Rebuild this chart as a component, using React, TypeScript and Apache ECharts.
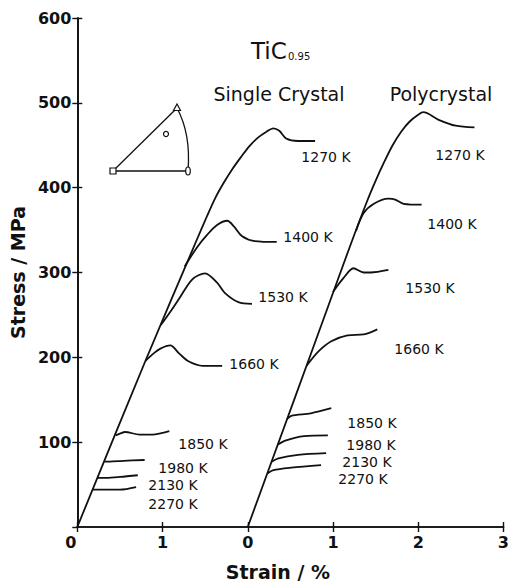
import React, { useEffect, useRef } from "react";
import * as echarts from "echarts";

// Strain axis tick labels (single crystal 0..1, then polycrystal 0..3)
const strainTickLabels = ["0", "1", "0", "1", "2", "3"];
const polyOffset = 2; // polycrystal curves start at the second "0"
const temperatures = ["1270 K", "1400 K", "1530 K", "1660 K", "1850 K", "1980 K", "2130 K", "2270 K"];

// Single crystal: [strain %, stress MPa]
const sc1270: number[][] = [[0, 0], [0.8, 196], [1.4, 338], [1.52, 366], [1.62, 388], [1.72, 406], [1.82, 422], [1.92, 436], [2.02, 449], [2.12, 459], [2.22, 466], [2.3, 470], [2.37, 467], [2.45, 458], [2.59, 455], [2.79, 455]];
const sc1400: number[][] = [[1.26, 307], [1.4, 329], [1.52, 344], [1.64, 356], [1.76, 361], [1.84, 354], [1.93, 343], [2.08, 337], [2.34, 336]];
const sc1530: number[][] = [[0.98, 238], [1.1, 255], [1.2, 270], [1.35, 292], [1.5, 299], [1.64, 288], [1.73, 276], [1.89, 265], [2.05, 263]];
const sc1660: number[][] = [[0.8, 196], [0.9, 205], [0.97, 210], [1.09, 214], [1.2, 204], [1.31, 195], [1.47, 190], [1.7, 190]];
const sc1850: number[][] = [[0.45, 108], [0.5, 110], [0.56, 112], [0.73, 109], [0.88, 109], [1.08, 113]];
const sc1980: number[][] = [[0.32, 77], [0.38, 77], [0.54, 78], [0.79, 79]];
const sc2130: number[][] = [[0.24, 58], [0.34, 58], [0.5, 59], [0.71, 61]];
const sc2270: number[][] = [[0.18, 44], [0.27, 44], [0.5, 44], [0.69, 47]];

// Polycrystal: [strain % (own origin), stress MPa]
const pc1270: number[][] = [[0, 0], [0.53, 146], [0.95, 262], [1.2, 331], [1.4, 384], [1.5, 408], [1.6, 430], [1.7, 450], [1.8, 466], [1.9, 478], [2.0, 486], [2.06, 489], [2.24, 480], [2.44, 473], [2.66, 471]];
const pc1400: number[][] = [[1.27, 349], [1.36, 370], [1.48, 381], [1.65, 387], [1.73, 386], [1.83, 381], [2.04, 380]];
const pc1530: number[][] = [[1.0, 277], [1.12, 293], [1.24, 305], [1.36, 300], [1.44, 300], [1.65, 303]];
const pc1660: number[][] = [[0.69, 190], [0.83, 207], [0.98, 219], [1.17, 226], [1.36, 227], [1.52, 233]];
const pc1850: number[][] = [[0.46, 127], [0.51, 131], [0.74, 134], [0.98, 140]];
const pc1980: number[][] = [[0.35, 97], [0.45, 102], [0.66, 107], [0.94, 108]];
const pc2130: number[][] = [[0.28, 77], [0.36, 81], [0.59, 85], [0.92, 87]];
const pc2270: number[][] = [[0.23, 63], [0.3, 67], [0.51, 70], [0.86, 73]];

const singleCurves = [sc1270, sc1400, sc1530, sc1660, sc1850, sc1980, sc2130, sc2270];
const polyCurves = [pc1270, pc1400, pc1530, pc1660, pc1850, pc1980, pc2130, pc2270];

const FONT = "DejaVu Sans";
const INK = "#111";

export default function App() {
  const ref = useRef<HTMLDivElement>(null);
  useEffect(() => {
    const chart = echarts.init(ref.current!, null, { renderer: "svg" });

    const mkLine = (name: string, data: number[][]) => ({
      name,
      type: "line",
      data,
      smooth: 0.3,
      showSymbol: false,
      symbol: "none",
      silent: true,
      lineStyle: { color: INK, width: 1.8 },
      z: 3,
    });

    const series: any[] = [];
    singleCurves.forEach((c, i) => series.push(mkLine("Single " + temperatures[i], c)));
    polyCurves.forEach((c, i) =>
      series.push(mkLine("Poly " + temperatures[i], c.map(([x, y]) => [x + polyOffset, y])))
    );

    const txt = (x: number, y: number, text: string, size = 14, weight: any = "normal", align = "center") => ({
      type: "text",
      style: { x, y, text, fill: INK, font: `${weight} ${size}px "${FONT}"`, textAlign: align, textVerticalAlign: "middle" },
      z: 10,
    });

    const singleLabelPos = [[326, 157], [308, 237], [283, 297], [254, 364], [203, 444], [183, 468], [173, 485], [173, 504]];
    const polyLabelPos = [[460, 155], [452, 224], [430, 288], [419, 349], [372, 423], [371, 445], [367, 462], [363, 479]];

    const graphics: any[] = [];
    temperatures.forEach((t, i) => graphics.push(txt(singleLabelPos[i][0], singleLabelPos[i][1], t)));
    temperatures.forEach((t, i) => graphics.push(txt(polyLabelPos[i][0], polyLabelPos[i][1], t)));
    graphics.push(txt(251, 51, "TiC", 23, "normal", "left"));
    graphics.push(txt(288, 56, "0.95", 10, "normal", "left"));
    graphics.push(txt(279, 94, "Single Crystal", 19));
    graphics.push(txt(441, 94, "Polycrystal", 19));

    // stereographic triangle inset
    const st = { stroke: INK, lineWidth: 1.3, fill: "none" };
    graphics.push({ type: "line", shape: { x1: 113, y1: 171, x2: 177, y2: 108 }, style: st, z: 10 });
    graphics.push({ type: "line", shape: { x1: 113, y1: 171, x2: 188, y2: 171 }, style: st, z: 10 });
    graphics.push({ type: "bezierCurve", shape: { x1: 177, y1: 108, x2: 188, y2: 171, cpx1: 191, cpy1: 134 }, style: st, z: 10 });
    const mk = { stroke: INK, lineWidth: 1.2, fill: "#fff" };
    graphics.push({ type: "rect", shape: { x: 110, y: 168, width: 6, height: 6 }, style: mk, z: 11 });
    graphics.push({ type: "polygon", shape: { points: [[177, 104], [173.5, 110.5], [180.5, 110.5]] }, style: mk, z: 11 });
    graphics.push({ type: "ellipse", shape: { cx: 188, cy: 171, rx: 2.3, ry: 4 }, style: mk, z: 11 });
    graphics.push({ type: "circle", shape: { cx: 166, cy: 134, r: 2.5 }, style: mk, z: 11 });

    const axisLine = { show: true, lineStyle: { color: INK, width: 1.7 } };
    const tick = { show: true, inside: true, length: 5, lineStyle: { color: INK, width: 1.4 } };

    chart.setOption({
      animation: false,
      backgroundColor: "#fff",
      grid: { left: 74, right: 7, top: 18, bottom: 50, containLabel: false },
      xAxis: [
        {
          type: "value",
          min: 0,
          max: 5,
          interval: 1,
          position: "bottom",
          axisLine,
          axisTick: tick,
          splitLine: { show: false },
          axisLabel: {
            margin: 7,
            color: INK,
            fontFamily: FONT,
            fontSize: 16,
            fontWeight: "bold",
            formatter: (v: number) => {
              const i = Math.round(v);
              const s = strainTickLabels[i] ?? "";
              return i === 0 ? `{first|${s}}` : s;
            },
            rich: {
              first: { fontFamily: FONT, fontSize: 16, fontWeight: "bold", color: INK, padding: [0, 13, 0, 0] },
            },
          },
          name: "Strain / %",
          nameLocation: "middle",
          nameGap: 35,
          nameTextStyle: { color: INK, fontFamily: FONT, fontSize: 19, fontWeight: "bold", padding: [0, 25, 0, 0] },
        },
        {
          type: "value",
          min: 0,
          max: 5,
          interval: 1,
          position: "top",
          axisLine,
          axisTick: tick,
          splitLine: { show: false },
          axisLabel: { show: false },
        },
      ],
      yAxis: [
        {
          type: "value",
          min: 0,
          max: 600,
          interval: 100,
          position: "left",
          axisLine,
          axisTick: tick,
          splitLine: { show: false },
          axisLabel: {
            margin: 6,
            color: INK,
            fontFamily: FONT,
            fontSize: 16,
            fontWeight: "bold",
            showMinLabel: false,
          },
          name: "Stress / MPa",
          nameLocation: "middle",
          nameGap: 40,
          nameRotate: 90,
          nameTextStyle: { color: INK, fontFamily: FONT, fontSize: 19, fontWeight: "bold" },
        },
        {
          type: "value",
          min: 0,
          max: 600,
          interval: 100,
          position: "right",
          axisLine,
          axisTick: tick,
          splitLine: { show: false },
          axisLabel: { show: false },
        },
      ],
      series,
      graphic: graphics,
    });
    return () => chart.dispose();
  }, []);
  return <div ref={ref} style={{ position: "absolute", left: 0, top: 0, width: 512, height: 586 }} />;
}
